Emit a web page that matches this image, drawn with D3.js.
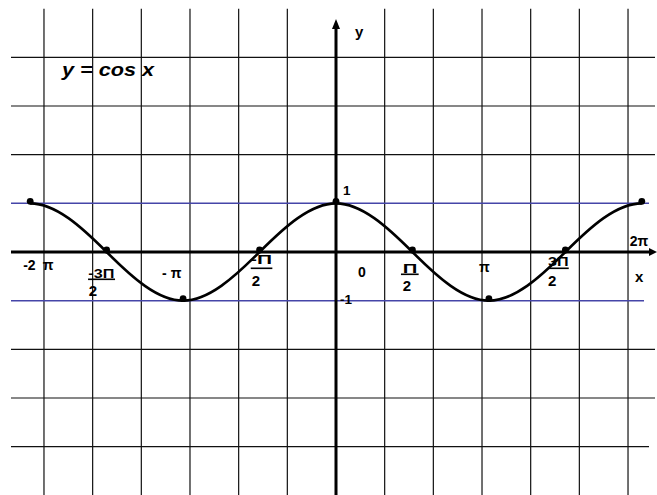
<!DOCTYPE html>
<html>
<head>
<meta charset="utf-8">
<script src="https://cdn.jsdelivr.net/npm/d3@7"></script>
<style>
  html, body { margin: 0; padding: 0; background: #fff; }
  svg { display: block; }
  text { font-family: "Liberation Sans", Arial, sans-serif; font-weight: bold; fill: #000; }
</style>
</head>
<body>
<svg id="chart" width="657" height="495"></svg>
<script>
// Key points of y = cos x, x given in steps of π/2
const halfPiSteps = [-4, -3, -2, -1, 0, 1, 2, 3, 4];
const cosValues   = [1, 0, -1, 0, 1, 0, -1, 0, 1];
const cosSlopes   = [0, -1, 0, 1, 0, -1, 0, 1, 0];

// Grid lines (one per unit)
const gridX = [-6, -5, -4, -3, -2, -1, 1, 2, 3, 4, 5, 6];
const gridY = [-4, -3, -2, 2, 3, 4];
const levelLines = [1, -1];

// Tick labels on the x axis: numerator / denominator (for fractions)
const xTickSteps = [-4, -3, -2, -1, 1, 2, 3, 4];
const xTickTop    = ["-2\u2002\u03c0", "-3\u03a0", "- \u03c0", "-\u03a0", "\u03a0", "\u03c0", "3\u03a0", "2\u03c0"];
const xTickBottom = [null, "2", null, "2", "2", null, "2", null];
const yTickValues = [1, -1];
const yTickLabels = ["1", "-1"];

// label placement (px) relative to the tick position on the axis
const xTickLayout = [
  { dx: -7,    dy: 18,   size: 14 },
  { dx: -18.3, dy: 25.5, size: 13, tw: 26,   ux: -0.3, uw: 27,   under: 27.3, ddx: 0.4, dd: 44.3, ds: 15 },
  { dx: -21,   dy: 26,   size: 14 },
  { dx: -9.5,  dy: 12.3, size: 13, tw: 22,   ux: 0.7,  uw: 21.6, under: 16.3, ddx: 1.7, dd: 33.7, ds: 15 },
  { dx: -9.8,  dy: 20.7, size: 13, tw: 14.6, ux: -1.7, uw: 17.7, under: 22.3, ddx: 0,   dd: 39,   ds: 15 },
  { dx: -10,   dy: 19.7, size: 14 },
  { dx: -17.3, dy: 14,   size: 13, tw: 20.5, ux: 0,    uw: 20.7, under: 16.3, ddx: 0,   dd: 34,   ds: 15 },
  { dx: -12,   dy: -6.3, size: 14 }
];

const unit = 48.67;
const cx = 336, cy = 252;
const x = d3.scaleLinear().domain([-7, 7]).range([cx - 7 * unit, cx + 7 * unit]);
const y = d3.scaleLinear().domain([-5, 5]).range([cy + 5 * unit, cy - 5 * unit]);
const halfPi = Math.PI / 2;

const svg = d3.select("#chart");

// grid
const grid = svg.append("g").attr("stroke", "#111").attr("stroke-width", 1.2);
grid.selectAll("line.v").data(gridX).join("line")
  .attr("class", "v")
  .attr("x1", d => x(d)).attr("x2", d => x(d))
  .attr("y1", y(5)).attr("y2", 495);
grid.selectAll("line.h").data(gridY).join("line")
  .attr("class", "h")
  .attr("x1", 11).attr("x2", d => d < -3 ? 649 : 655)
  .attr("y1", d => y(d)).attr("y2", d => y(d));

// y = 1 and y = -1 levels
svg.append("g").selectAll("line").data(levelLines).join("line")
  .attr("x1", 11).attr("x2", (d) => d > 0 ? 649 : 644)
  .attr("y1", d => y(d)).attr("y2", d => y(d))
  .attr("stroke", "#4545a8").attr("stroke-width", 1.5);

// axes
svg.append("line")
  .attr("x1", 11).attr("x2", 650).attr("y1", y(0)).attr("y2", y(0))
  .attr("stroke", "#000").attr("stroke-width", 3);
svg.append("path")
  .attr("d", `M657,${y(0)} L649,${y(0) - 4} L649,${y(0) + 4} Z`)
  .attr("fill", "#000");
svg.append("line")
  .attr("x1", x(0)).attr("x2", x(0)).attr("y1", 495).attr("y2", 27)
  .attr("stroke", "#000").attr("stroke-width", 3);
svg.append("path")
  .attr("d", `M${x(0)},19 L${x(0) - 4},29 L${x(0) + 4},29 Z`)
  .attr("fill", "#000");

// axis names and title
svg.append("text").attr("x", x(0) + 19).attr("y", 37).attr("font-size", 15).text("y");
svg.append("text").attr("x", 635).attr("y", 282.3).attr("font-size", 15).text("x");
svg.append("text").attr("x", 62).attr("y", 76).attr("font-size", 19)
  .attr("font-style", "italic")
  .attr("textLength", 92).attr("lengthAdjust", "spacingAndGlyphs")
  .text("y = cos x");

// x tick labels
const xt = svg.append("g");
xTickSteps.forEach((s, i) => {
  const L = xTickLayout[i];
  const px = x(s * halfPi) + L.dx;
  const t = xt.append("text").attr("x", px).attr("y", y(0) + L.dy)
    .attr("font-size", L.size).text(xTickTop[i]);
  if (L.tw) t.attr("textLength", L.tw).attr("lengthAdjust", "spacingAndGlyphs");
  if (xTickBottom[i]) {
    xt.append("line")
      .attr("x1", px + L.ux).attr("x2", px + L.ux + L.uw)
      .attr("y1", y(0) + L.under).attr("y2", y(0) + L.under)
      .attr("stroke", "#000").attr("stroke-width", 1.6);
    xt.append("text").attr("x", px + L.ddx).attr("y", y(0) + L.dd)
      .attr("font-size", L.ds).text(xTickBottom[i]);
  }
});
svg.append("text").attr("x", x(0) + 22).attr("y", y(0) + 24.7).attr("font-size", 14).text("0");

// y tick labels
svg.selectAll("text.yt").data(yTickValues).join("text")
  .attr("class", "yt")
  .attr("x", d => x(0) + (d > 0 ? 7 : 4))
  .attr("y", d => y(d) + (d > 0 ? -8 : 3.6))
  .attr("font-size", 13.5)
  .text((d, i) => yTickLabels[i]);

// the cosine curve: cubic Hermite segments through the key points
const pts = halfPiSteps.map((s, i) => ({ t: s * halfPi, v: cosValues[i], m: cosSlopes[i] }));
const p = d3.path();
p.moveTo(x(pts[0].t), y(pts[0].v));
for (let i = 1; i < pts.length; i++) {
  const a = pts[i - 1], b = pts[i], h = (b.t - a.t) / 3;
  p.bezierCurveTo(
    x(a.t + h), y(a.v + a.m * h),
    x(b.t - h), y(b.v - b.m * h),
    x(b.t), y(b.v));
}
svg.append("path").attr("d", p.toString())
  .attr("fill", "none").attr("stroke", "#000").attr("stroke-width", 2.6);

// marked points
svg.selectAll("circle").data(pts).join("circle")
  .attr("cx", d => x(d.t)).attr("cy", d => y(d.v) - 2)
  .attr("r", 3.4).attr("fill", "#000");
</script>
</body>
</html>
